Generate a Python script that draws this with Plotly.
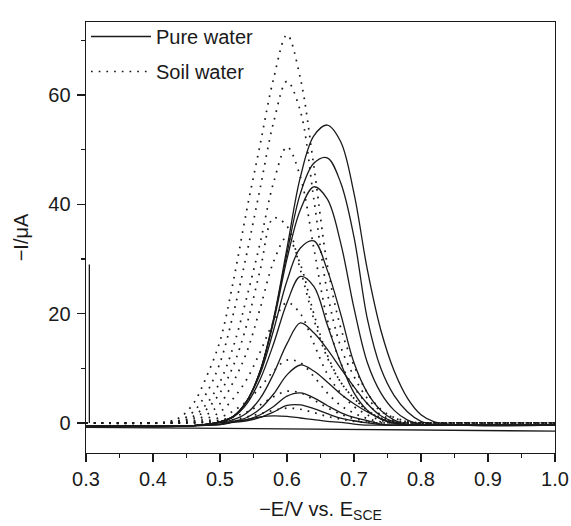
import plotly.graph_objects as go

# ---------------- data ----------------
# shared potential grid (−E / V vs SCE) for the pure-water voltammograms
x_pure = [0.30, 0.46, 0.50, 0.52, 0.54, 0.56, 0.58, 0.60, 0.62, 0.64, 0.66,
          0.68, 0.70, 0.72, 0.74, 0.76, 0.78, 0.80, 0.82, 0.86, 1.00]

pure_1 = [-0.5, -0.5, 0.2, 1.2, 4.0, 9.5, 19.0, 32.0, 45.0, 52.5, 54.5, 51.5, 42.0, 28.0, 17.0, 9.5, 4.5, 1.5, 0.2, -0.4, -0.4]
pure_2 = [-0.5, -0.5, 0.2, 1.2, 4.0, 9.5, 19.0, 31.0, 42.0, 47.5, 48.5, 44.0, 34.0, 19.0, 10.0, 5.0, 2.0, 0.3, -0.3, -0.4, -0.4]
pure_3 = [-0.5, -0.5, 0.2, 1.2, 4.0, 9.5, 18.5, 30.0, 39.0, 43.2, 41.0, 33.0, 21.0, 11.0, 5.5, 2.3, 0.5, -0.3, -0.4, -0.4, -0.4]
pure_4 = [-0.5, -0.5, 0.2, 1.2, 4.0, 9.0, 17.0, 26.0, 32.0, 33.3, 28.0, 20.0, 11.0, 5.5, 2.3, 0.5, -0.3, -0.4, -0.4, -0.4, -0.4]
pure_5 = [-0.5, -0.5, 0.2, 1.1, 3.5, 8.0, 14.5, 22.0, 26.8, 25.0, 18.0, 11.0, 5.5, 2.3, 0.7, -0.1, -0.4, -0.4, -0.4, -0.4, -0.4]
pure_6 = [-0.5, -0.5, 0.1, 0.6, 1.8, 4.5, 9.0, 14.5, 18.3, 16.5, 13.5, 10.0, 6.6, 3.5, 1.3, 0.2, -0.4, -0.4, -0.4, -0.4, -0.4]
pure_7 = [-0.5, -0.5, 0.0, 0.3, 1.0, 2.6, 5.3, 8.8, 10.6, 9.5, 7.5, 5.3, 3.5, 2.0, 0.8, 0.0, -0.4, -0.4, -0.4, -0.4, -0.4]
pure_8 = [-0.5, -0.5, -0.2, 0.2, 0.6, 1.5, 3.0, 4.9, 5.5, 4.6, 3.2, 1.9, 1.0, 0.4, -0.2, -0.4, -0.4, -0.4, -0.4, -0.4, -0.4]
pure_9 = [-0.5, -0.5, -0.3, 0.1, 0.4, 1.0, 2.0, 3.2, 3.3, 2.6, 1.7, 0.9, 0.4, 0.0, -0.3, -0.4, -0.4, -0.4, -0.4, -0.4, -0.4]
pure_10 = [-0.5, -0.5, -0.3, 0.2, 0.6, 1.1, 1.3, 1.2, 0.9, 0.6, 0.3, 0.1, -0.2, -0.4, -0.4, -0.4, -0.4, -0.4, -0.4, -0.4, -0.4]
pure_curves = [pure_1, pure_2, pure_3, pure_4, pure_5, pure_6, pure_7, pure_8, pure_9, pure_10]

# blank (supporting electrolyte) baseline
blank_x = [0.30, 0.60, 1.00]
blank_y = [-0.8, -1.1, -1.5]

# start-up spike at the beginning of the scan
spike_x = [0.305, 0.305]
spike_y = [0.0, 29.0]

# shared potential grid for the soil-water voltammograms
x_soil = [0.30, 0.42, 0.44, 0.46, 0.48, 0.50, 0.52, 0.54, 0.56, 0.58, 0.60,
          0.62, 0.64, 0.66, 0.68, 0.70, 0.72, 0.74, 0.76, 0.78, 0.80, 1.00]

soil_1 = [0.0, 0.2, 1.0, 3.5, 8.5, 15.0, 26.0, 39.0, 51.0, 63.0, 71.0, 63.0, 47.0, 29.0, 17.5, 10.5, 5.5, 2.5, 1.0, 0.3, 0.0, 0.0]
soil_2 = [0.0, 0.1, 0.5, 2.0, 5.5, 11.0, 20.0, 31.0, 43.0, 55.0, 62.5, 57.0, 41.0, 24.0, 14.0, 8.5, 4.5, 2.2, 0.9, 0.2, 0.0, 0.0]
soil_3 = [0.0, 0.0, 0.3, 1.2, 3.5, 7.5, 14.0, 23.0, 33.0, 44.0, 50.5, 45.0, 32.0, 19.0, 11.0, 6.5, 3.5, 1.5, 0.5, 0.0, 0.0, 0.0]
soil_4 = [0.0, 0.0, 0.2, 0.8, 2.5, 5.5, 10.5, 18.0, 28.0, 37.5, 36.0, 28.0, 19.0, 12.0, 7.5, 4.5, 2.3, 1.0, 0.3, 0.0, 0.0, 0.0]
soil_5 = [0.0, 0.0, 0.1, 0.4, 1.5, 3.5, 7.5, 13.0, 21.0, 29.5, 34.0, 29.0, 20.0, 12.5, 7.5, 4.5, 2.2, 0.9, 0.2, 0.0, 0.0, 0.0]
soil_6 = [0.0, 0.0, 0.0, 0.2, 0.8, 2.0, 4.5, 8.0, 13.0, 18.5, 22.0, 20.0, 14.5, 9.0, 5.5, 3.0, 1.5, 0.5, 0.0, 0.0, 0.0, 0.0]
soil_7 = [0.0, 0.0, 0.0, 0.1, 0.4, 1.0, 2.2, 4.0, 6.5, 9.5, 11.5, 11.0, 8.5, 5.5, 3.2, 1.8, 0.8, 0.2, 0.0, 0.0, 0.0, 0.0]
soil_8 = [0.0, 0.0, 0.0, 0.0, 0.2, 0.5, 1.1, 2.0, 3.3, 4.8, 5.8, 5.5, 4.2, 2.8, 1.6, 0.8, 0.3, 0.0, 0.0, 0.0, 0.0, 0.0]
soil_9 = [0.0, 0.0, 0.0, 0.0, 0.1, 0.3, 0.6, 1.1, 1.7, 2.3, 2.7, 2.5, 1.9, 1.2, 0.7, 0.3, 0.1, 0.0, 0.0, 0.0, 0.0, 0.0]
soil_curves = [soil_1, soil_2, soil_3, soil_4, soil_5, soil_6, soil_7, soil_8, soil_9]

x_ticks = [0.3, 0.4, 0.5, 0.6, 0.7, 0.8, 0.9, 1.0]
y_ticks = [0, 20, 40, 60]

# ---------------- figure ----------------
INK = "#1a1a1a"
FONT = "Liberation Sans, Arial, Helvetica, sans-serif"
FS = 20

fig = go.Figure()

for i, ys in enumerate(pure_curves):
    fig.add_trace(go.Scatter(
        x=x_pure, y=ys, mode="lines", line_shape="spline",
        line=dict(color=INK, width=1.3),
        name="Pure water", legendgroup="pure", showlegend=(i == 0),
        hoverinfo="skip"))

fig.add_trace(go.Scatter(x=blank_x, y=blank_y, mode="lines",
                         line=dict(color=INK, width=1.3),
                         showlegend=False, hoverinfo="skip"))
fig.add_trace(go.Scatter(x=spike_x, y=spike_y, mode="lines",
                         line=dict(color=INK, width=1.3),
                         showlegend=False, hoverinfo="skip"))

for i, ys in enumerate(soil_curves):
    fig.add_trace(go.Scatter(
        x=x_soil, y=ys, mode="lines", line_shape="spline",
        line=dict(color=INK, width=1.7, dash="1.7px,6px"),
        name="Soil water", legendgroup="soil", showlegend=(i == 0),
        hoverinfo="skip"))

axis_common = dict(
    showline=True, linecolor=INK, linewidth=1.4, mirror=True,
    ticks="outside", ticklen=8, tickwidth=1.2, tickcolor=INK,
    showgrid=False, zeroline=False, automargin=False,
    tickfont=dict(family=FONT, size=FS, color=INK),
)

fig.update_layout(
    width=571, height=526,
    margin=dict(l=86, r=16, t=22, b=73, autoexpand=False),
    paper_bgcolor="white", plot_bgcolor="white",
    font=dict(family=FONT, size=FS, color=INK),
    xaxis=dict(
        range=[0.3, 1.0], tickvals=x_ticks, tickformat=".1f",
        minor=dict(dtick=0.05, tick0=0.3, ticks="outside", ticklen=4,
                   tickcolor=INK, tickwidth=1.1),
        title=dict(text="−E/V vs. E<sub>SCE</sub>", standoff=12,
                   font=dict(family=FONT, size=FS, color=INK)),
        **axis_common),
    yaxis=dict(
        range=[-5.5, 73.35], tickvals=y_ticks, ticklabelstandoff=2,
        minor=dict(dtick=10, tick0=0, ticks="outside", ticklen=4,
                   tickcolor=INK, tickwidth=1.1),
        title=dict(text="−I/μA", standoff=14,
                   font=dict(family=FONT, size=FS, color=INK)),
        **axis_common),
    legend=dict(x=0.0, y=1.0116, xanchor="left", yanchor="top",
                bgcolor="rgba(0,0,0,0)", borderwidth=0,
                traceorder="grouped", tracegroupgap=6, itemwidth=60,
                font=dict(family=FONT, size=FS, color=INK)),
)

# place the figure flush with the window (no default page margin / scrollbars)
page_fix = "document.body.style.margin='0';document.body.style.overflow='hidden';"
fig.write_html("out.html", post_script=page_fix,
               config={"displayModeBar": False, "staticPlot": True})
